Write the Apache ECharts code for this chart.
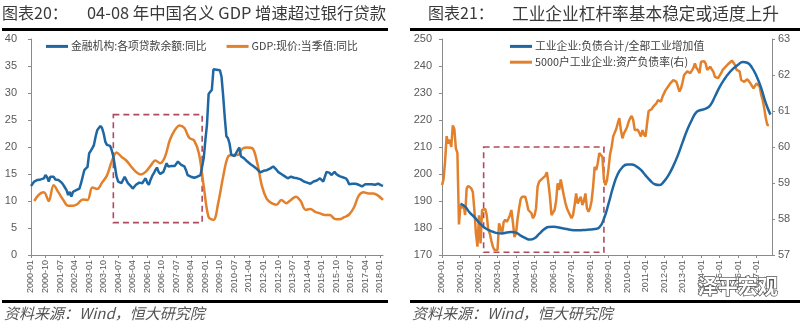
<!DOCTYPE html>
<html><head><meta charset="utf-8">
<script src="https://cdn.jsdelivr.net/npm/echarts@6/dist/echarts.min.js"></script>
<style>html,body{margin:0;padding:0;background:#fff}#c{width:800px;height:330px}</style>
</head><body><div id="c"></div>
<script>
// ---------- Data ----------
// Left panel: monthly 2000-01 .. 2018-03
const leftStart = [2000, 1];
const leftMonthCount = 219;
// 金融机构:各项贷款余额:同比 (monthly, %)
const loanYoY = [
  12.8, 13.2, 13.6, 13.8, 13.9, 13.9, 14.0, 14.1, 14.2, 14.8, 14.4, 13.6,
  14.5, 14.4, 14.5, 14.0, 13.8, 13.9, 13.9, 13.4, 13.0, 12.5, 12.0, 11.1,
  11.7, 10.8, 11.7, 11.4, 12.0, 12.1, 12.3, 13.3, 14.5, 15.7, 15.8, 16.3,
  18.8, 19.3, 19.8, 20.4, 21.9, 23.1, 23.5, 23.9, 23.5, 22.5, 21.0, 20.4,
  20.4, 20.2, 19.4, 18.2, 16.4, 14.5, 13.6, 13.4, 13.3, 13.9, 14.5, 14.2,
  13.3, 13.0, 12.7, 12.3, 12.6, 13.0, 13.2, 13.4, 13.1, 13.3, 13.8, 14.2,
  13.4, 13.0, 13.9, 14.6, 15.1, 15.7, 16.2, 15.4, 15.0, 15.0, 15.4, 16.2,
  17.0, 16.4, 16.5, 16.5, 16.5, 16.5, 16.8, 17.3, 17.6, 16.7, 17.0, 16.4,
  15.7, 14.8, 14.6, 14.5, 14.2, 14.3, 14.4, 14.5, 14.7, 14.8, 15.1, 18.0,
  21.3, 24.2, 29.8, 29.7, 30.6, 34.4, 34.4, 34.3, 34.3, 34.2, 33.0, 29.5,
  25.5, 22.0, 21.6, 20.6, 18.6, 18.4, 18.3, 18.6, 19.4, 19.9, 18.3, 18.0,
  17.9, 17.6, 17.3, 17.0, 16.8, 16.6, 16.4, 16.2, 15.9, 15.6, 15.3, 15.1,
  15.6, 15.7, 15.7, 15.9, 16.0, 16.2, 16.4, 16.1, 15.8, 15.4, 15.2, 15.0,
  14.8, 14.6, 14.4, 14.2, 14.3, 14.5, 14.4, 14.3, 14.2, 14.2, 14.1, 14.0,
  13.8, 13.6, 13.6, 13.4, 13.1, 13.2, 13.4, 13.6, 13.5, 13.8, 14.0, 14.2,
  13.9, 13.6, 13.6, 15.4, 15.4, 15.2, 14.8, 15.1, 15.4, 15.0, 14.8, 14.6,
  14.5, 14.4, 14.3, 14.2, 13.8, 13.1, 13.1, 13.2, 13.3, 13.2, 13.1, 13.0,
  12.8, 12.7, 12.9, 13.1, 13.0, 13.1, 13.2, 13.1, 13.1, 13.0, 13.1, 13.2,
  13.0, 12.9, 12.8
];
// GDP:现价:当季值:同比 (quarterly, 2000Q1..2018Q1, placed on quarter-end months)
const gdpQuarterly = [
  10.0, 11.2, 11.6, 10.0,  12.9, 11.6, 10.2, 9.1,  9.1, 9.5, 10.3, 10.2,
  12.5, 12.2, 13.4, 14.7,  17.3, 19.0, 18.2, 17.5,  16.4, 15.4, 14.9, 15.4,
  16.5, 17.5, 17.0, 18.2,  21.3, 23.1, 24.0, 23.5,  21.7, 21.2, 18.8, 12.7,
  7.0, 6.5, 9.7, 14.5,  18.2, 18.5, 18.5, 19.7,  19.9, 19.8, 17.2, 12.8,
  10.4, 9.6, 9.3, 10.2,  9.6, 10.2, 10.8, 10.0,  8.4, 8.5, 8.0, 7.7,
  7.4, 7.4, 6.7, 6.6,  7.0, 7.5, 8.8, 11.0,  11.6, 11.4, 11.4, 11.0,
  10.2
];
const gdpFirstMonthIndex = 2;   // 2000-03
const gdpStep = 3;

// Right panel: monthly 2000-01 .. 2017-11
const rightStart = [2000, 1];
const rightMonthCount = 215;
// 工业企业:负债合计/全部工业增加值 (quarterly points, left axis)
const debtToVA = [
  189.0, 187.9, 185.7, 184.0, 182.0, 180.4, 179.3, 178.6, 178.1, 178.0,
  178.3, 178.5, 178.3, 177.2, 176.3, 175.7, 176.2, 177.8, 179.4, 180.4,
  180.5, 180.3, 179.9, 179.6, 179.3, 179.2, 179.2, 179.3, 179.4, 179.6,
  180.2, 183.4, 189.0, 195.2, 200.0, 202.5, 203.5, 203.5, 202.8, 201.5,
  199.5, 197.6, 196.2, 195.9, 197.3, 199.7, 203.0, 207.0, 211.7, 216.3,
  220.0, 222.9, 223.7, 224.2, 225.5, 228.7, 232.2, 235.0, 237.3, 239.1,
  240.5, 241.5, 241.2, 239.4, 236.2, 231.8, 226.2, 222.0
];
const debtFirstMonthIndex = 12; // 2001-01
const debtStep = 3;
// 5000户工业企业:资产负债率(右) (monthly, right axis)
const assetLiabRatio = [
  58.94, 59.10, 59.60, 60.30, 60.10, 60.20, 60.00, 60.60, 60.50, 59.96, 59.83, 57.85,
  58.39, 58.30, 58.39, 58.11, 58.85, 58.92, 58.94, 58.85, 58.75, 58.25, 57.60, 57.23,
  58.10, 57.32, 58.25, 58.20, 58.28, 58.11, 57.70, 57.60, 57.40, 57.23, 57.14, 57.14,
  57.14, 57.88, 57.92, 57.60, 57.92, 57.98, 57.92, 58.00, 58.10, 58.25, 57.90, 57.50,
  57.60, 58.00, 58.30, 58.55, 58.62, 58.65, 58.62, 58.45, 58.25, 58.20, 58.16, 58.02,
  58.10, 58.30, 58.90, 59.04, 59.08, 59.12, 59.15, 59.20, 59.30, 59.00, 58.62, 58.11,
  58.16, 58.25, 58.50, 58.99, 58.81, 59.10, 59.05, 58.65, 58.45, 58.30, 58.20, 58.11,
  58.02, 58.11, 58.39, 58.71, 58.43, 58.53, 58.62, 58.39, 58.49, 58.71, 58.30, 58.20,
  58.30, 58.50, 58.90, 59.45, 59.36, 59.55, 59.83, 59.80, 59.73, 59.10, 58.94, 59.08,
  59.40, 59.80, 60.00, 60.29, 60.40, 60.50, 60.66, 60.80, 60.47, 60.24, 60.38, 60.43,
  60.55, 60.70, 60.80, 60.86, 60.75, 60.47, 60.52, 60.48, 60.43, 60.29, 60.47, 60.35,
  60.29, 60.66, 61.00, 61.03, 61.05, 61.12, 61.15, 61.21, 61.30, 61.35, 61.26, 61.40,
  61.49, 61.58, 61.62, 61.70, 61.77, 61.82, 61.86, 61.82, 61.81, 61.84, 61.54, 61.63,
  61.80, 62.00, 62.05, 62.10, 62.14, 62.05, 62.12, 62.19, 62.32, 62.20, 62.14, 62.05,
  62.37, 62.42, 62.38, 62.32, 62.14, 62.18, 62.23, 62.15, 62.09, 61.95, 61.93, 61.91,
  61.98, 62.05, 62.14, 62.18, 62.23, 62.28, 62.32, 62.37, 62.40, 62.37, 62.28, 62.14,
  62.19, 62.10, 61.86, 61.83, 61.81, 61.86, 61.88, 61.91, 61.77, 61.70, 61.63, 61.68,
  61.77, 61.72, 61.68, 61.45, 61.30, 61.07, 60.80, 60.61, 60.60
];

// Highlight boxes (category + value corners)
const leftBox = [['2004-04', 26], ['2008-11', 6]];
const rightBox = [['2002-04', 210], ['2008-10', 171]];

// Axis ticks
const leftYTicks = [0, 40, 5];
const rightYTicks = [170, 250, 10];
const rightY2Ticks = [57, 63, 1];

// ---------- Build ----------
function makeMonths(start, count) {
  const out = [];
  let y = start[0], m = start[1];
  for (let i = 0; i < count; i++) {
    out.push(y + '-' + (m < 10 ? '0' + m : '' + m));
    m++; if (m > 12) { m = 1; y++; }
  }
  return out;
}
const leftCats = makeMonths(leftStart, leftMonthCount);
const rightCats = makeMonths(rightStart, rightMonthCount);
const gdpData = gdpQuarterly.map((v, i) => [leftCats[gdpFirstMonthIndex + gdpStep * i], v]);
const debtData = debtToVA.map((v, i) => [rightCats[debtFirstMonthIndex + debtStep * i], v]);

const BLUE = '#1f67a3';
const ORANGE = '#e3802c';
const BOXC = '#b04a5e';
const AX = '#8a8a8a';
const LBL = '#595959';
const NUMFONT = 'Liberation Sans, Arial, sans-serif';
const CJK = '"Noto Sans CJK SC", sans-serif';

function xAxisCfg(grid, cats, every) {
  return {
    type: 'category', gridIndex: grid, data: cats, boundaryGap: false,
    axisLine: { lineStyle: { color: AX, width: 1 } },
    axisTick: { interval: every - 1, length: 3, lineStyle: { color: AX } },
    axisLabel: { interval: every - 1, rotate: 90, fontSize: 9, color: LBL, fontFamily: NUMFONT, margin: 5 },
    splitLine: { show: false }
  };
}
function yAxisCfg(grid, t, pos, margin) {
  return {
    type: 'value', gridIndex: grid, position: pos, min: t[0], max: t[1], interval: t[2],
    axisLine: { show: true, lineStyle: { color: AX } },
    axisTick: { show: true, length: 3, lineStyle: { color: AX } },
    axisLabel: { fontSize: 11, color: LBL, fontFamily: NUMFONT, margin: margin },
    splitLine: { show: false }
  };
}
const boxStyle = { color: 'rgba(0,0,0,0)', borderColor: BOXC, borderWidth: 1.6, borderType: [6, 4] };

const chart = echarts.init(document.getElementById('c'), null, { renderer: 'canvas' });
chart.setOption({
  animation: false,
  backgroundColor: '#fff',
  grid: [
    { left: 31, top: 39, width: 352, height: 216 },
    { left: 442, top: 39, width: 330, height: 216 }
  ],
  xAxis: [xAxisCfg(0, leftCats, 9), xAxisCfg(1, rightCats, 12)],
  yAxis: [yAxisCfg(0, leftYTicks, 'left', 14), yAxisCfg(1, rightYTicks, 'left', 10), yAxisCfg(1, rightY2Ticks, 'right', 6)],
  legend: [
    { data: ['金融机构:各项贷款余额:同比', 'GDP:现价:当季值:同比'], left: 46, top: 41, padding: 0, orient: 'horizontal',
      icon: 'rect', itemWidth: 22, itemHeight: 3, itemGap: 20,
      textStyle: { fontSize: 10.8, color: '#404040', fontFamily: CJK, padding: [0, 0, 0, -2] } },
    { data: ['工业企业:负债合计/全部工业增加值', '5000户工业企业:资产负债率(右)'], left: 510, top: 41, padding: 0, orient: 'vertical',
      icon: 'rect', itemWidth: 22, itemHeight: 3, itemGap: 5,
      textStyle: { fontSize: 10.8, color: '#404040', fontFamily: CJK, padding: [0, 0, 0, -2] } }
  ],
  series: [
    { name: '金融机构:各项贷款余额:同比', type: 'line', xAxisIndex: 0, yAxisIndex: 0, data: loanYoY,
      symbol: 'none', lineStyle: { color: BLUE, width: 2.5 }, itemStyle: { color: BLUE }, z: 3,
      markArea: { silent: true, itemStyle: boxStyle,
        data: [[{ xAxis: leftBox[0][0], yAxis: leftBox[0][1] }, { xAxis: leftBox[1][0], yAxis: leftBox[1][1] }]] } },
    { name: 'GDP:现价:当季值:同比', type: 'line', xAxisIndex: 0, yAxisIndex: 0, data: gdpData,
      symbol: 'none', smooth: 0.35, lineStyle: { color: ORANGE, width: 2.5 }, itemStyle: { color: ORANGE }, z: 2 },
    { name: '工业企业:负债合计/全部工业增加值', type: 'line', xAxisIndex: 1, yAxisIndex: 1, data: debtData,
      symbol: 'none', smooth: 0.5, lineStyle: { color: BLUE, width: 2.5 }, itemStyle: { color: BLUE }, z: 3,
      markArea: { silent: true, itemStyle: boxStyle,
        data: [[{ xAxis: rightBox[0][0], yAxis: rightBox[0][1] }, { xAxis: rightBox[1][0], yAxis: rightBox[1][1] }]] } },
    { name: '5000户工业企业:资产负债率(右)', type: 'line', xAxisIndex: 1, yAxisIndex: 2, data: assetLiabRatio,
      symbol: 'none', lineStyle: { color: ORANGE, width: 2.5 }, itemStyle: { color: ORANGE }, z: 2 }
  ],
  graphic: [
    { type: 'text', left: 2, top: 5, style: { text: '图表20：', fontSize: 16, fill: '#3a3a3a', fontFamily: CJK } },
    { type: 'text', left: 87, top: 5, style: { text: '04-08 年中国名义 GDP 增速超过银行贷款', fontSize: 16.4, fill: '#3a3a3a', fontFamily: CJK } },
    { type: 'text', left: 428, top: 5, style: { text: '图表21：', fontSize: 16, fill: '#3a3a3a', fontFamily: CJK } },
    { type: 'text', left: 512, top: 5, style: { text: '工业企业杠杆率基本稳定或适度上升', fontSize: 16.7, fill: '#3a3a3a', fontFamily: CJK } },
    { type: 'rect', shape: { x: 2, y: 28, width: 386, height: 3 }, style: { fill: '#000' } },
    { type: 'rect', shape: { x: 410, y: 28, width: 390, height: 3 }, style: { fill: '#000' } },
    { type: 'rect', shape: { x: 2, y: 300, width: 386, height: 3 }, style: { fill: '#000' } },
    { type: 'rect', shape: { x: 410, y: 300, width: 390, height: 3 }, style: { fill: '#000' } },
    { type: 'text', left: 4, top: 306, style: { text: '资料来源：Wind，恒大研究院', fontSize: 15, fontStyle: 'italic', fill: '#555', fontFamily: CJK } },
    { type: 'text', left: 412, top: 306, style: { text: '资料来源：Wind，恒大研究院', fontSize: 15, fontStyle: 'italic', fill: '#555', fontFamily: CJK } },
    { type: 'text', left: 697, top: 276, z: 100, style: { text: '泽平宏观', fontSize: 20, fontWeight: 'bold', fill: '#fff', stroke: '#555', lineWidth: 1.5, fontFamily: CJK } }
  ]
});
</script>
</body></html>
